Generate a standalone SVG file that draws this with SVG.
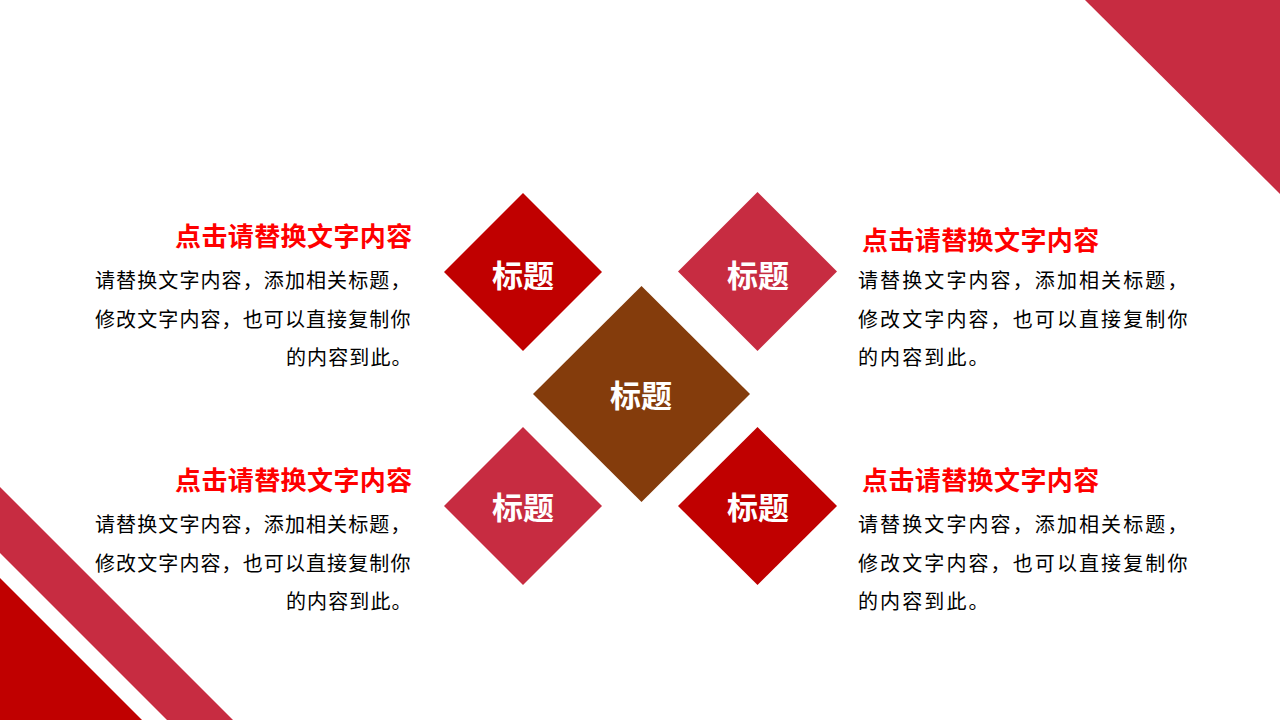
<svg xmlns="http://www.w3.org/2000/svg" width="1280" height="720" viewBox="0 0 1280 720">
<style>
.crimson{fill:#C72C41}
.dark{fill:#C00000}
.brown{fill:#843C0C}
.lbl{font-family:"Noto Sans CJK SC","Noto Sans",sans-serif;font-weight:700;font-size:31px;fill:#FFFFFF;text-anchor:middle}
.head{font-family:"Noto Sans CJK SC","Noto Sans",sans-serif;font-weight:700;font-size:26px;letter-spacing:0.4px;fill:#FF0000}
.bodyL{font-family:"Noto Sans CJK SC","Noto Sans",sans-serif;font-size:20px;letter-spacing:1.1px;fill:#000000}
.bodyR{font-family:"Noto Sans CJK SC","Noto Sans",sans-serif;font-size:20px;letter-spacing:2.1px;fill:#000000}
</style>
<rect width="1280" height="720" fill="#FFFFFF"/>
<g id="decor">
<polygon class="crimson" points="1085,0 1280,0 1280,194"/>
<polygon class="crimson" points="0,487 233,720 167,720 0,553"/>
<polygon class="dark" points="0,578 142,720 0,720"/>
</g>
<g id="connectors"/>
<g id="node-top-left">
<polygon class="dark" points="523,193 602,272 523,351 444,272"/>
<text class="lbl" x="523" y="287">标题</text>
</g>
<g id="node-top-right">
<polygon class="crimson" points="757.5,192 837,271.5 757.5,351 678,271.5"/>
<text class="lbl" x="758" y="287">标题</text>
</g>
<g id="node-center">
<polygon class="brown" points="641.5,286 750,394 641.5,502 533,394"/>
<text class="lbl" x="641" y="407">标题</text>
</g>
<g id="node-bottom-left">
<polygon class="crimson" points="523,427 602,506 523,585 444,506"/>
<text class="lbl" x="523" y="519">标题</text>
</g>
<g id="node-bottom-right">
<polygon class="dark" points="757.5,427 837,506 757.5,585 678,506"/>
<text class="lbl" x="758" y="519">标题</text>
</g>
<g id="text-top-left">
<text class="head" x="175" y="246">点击请替换文字内容</text>
<text class="bodyL" x="95" y="288">请替换文字内容，添加相关标题，</text>
<text class="bodyL" x="95" y="327">修改文字内容，也可以直接复制你</text>
<text class="bodyL" x="286" y="365">的内容到此。</text>
</g>
<g id="text-top-right">
<text class="head" x="862" y="250">点击请替换文字内容</text>
<text class="bodyR" x="858" y="288">请替换文字内容，添加相关标题，</text>
<text class="bodyR" x="858" y="327">修改文字内容，也可以直接复制你</text>
<text class="bodyR" x="858" y="365">的内容到此。</text>
</g>
<g id="text-bottom-left">
<text class="head" x="175" y="490">点击请替换文字内容</text>
<text class="bodyL" x="95" y="532">请替换文字内容，添加相关标题，</text>
<text class="bodyL" x="95" y="571">修改文字内容，也可以直接复制你</text>
<text class="bodyL" x="286" y="609">的内容到此。</text>
</g>
<g id="text-bottom-right">
<text class="head" x="862" y="490">点击请替换文字内容</text>
<text class="bodyR" x="858" y="532">请替换文字内容，添加相关标题，</text>
<text class="bodyR" x="858" y="571">修改文字内容，也可以直接复制你</text>
<text class="bodyR" x="858" y="609">的内容到此。</text>
</g>
</svg>
